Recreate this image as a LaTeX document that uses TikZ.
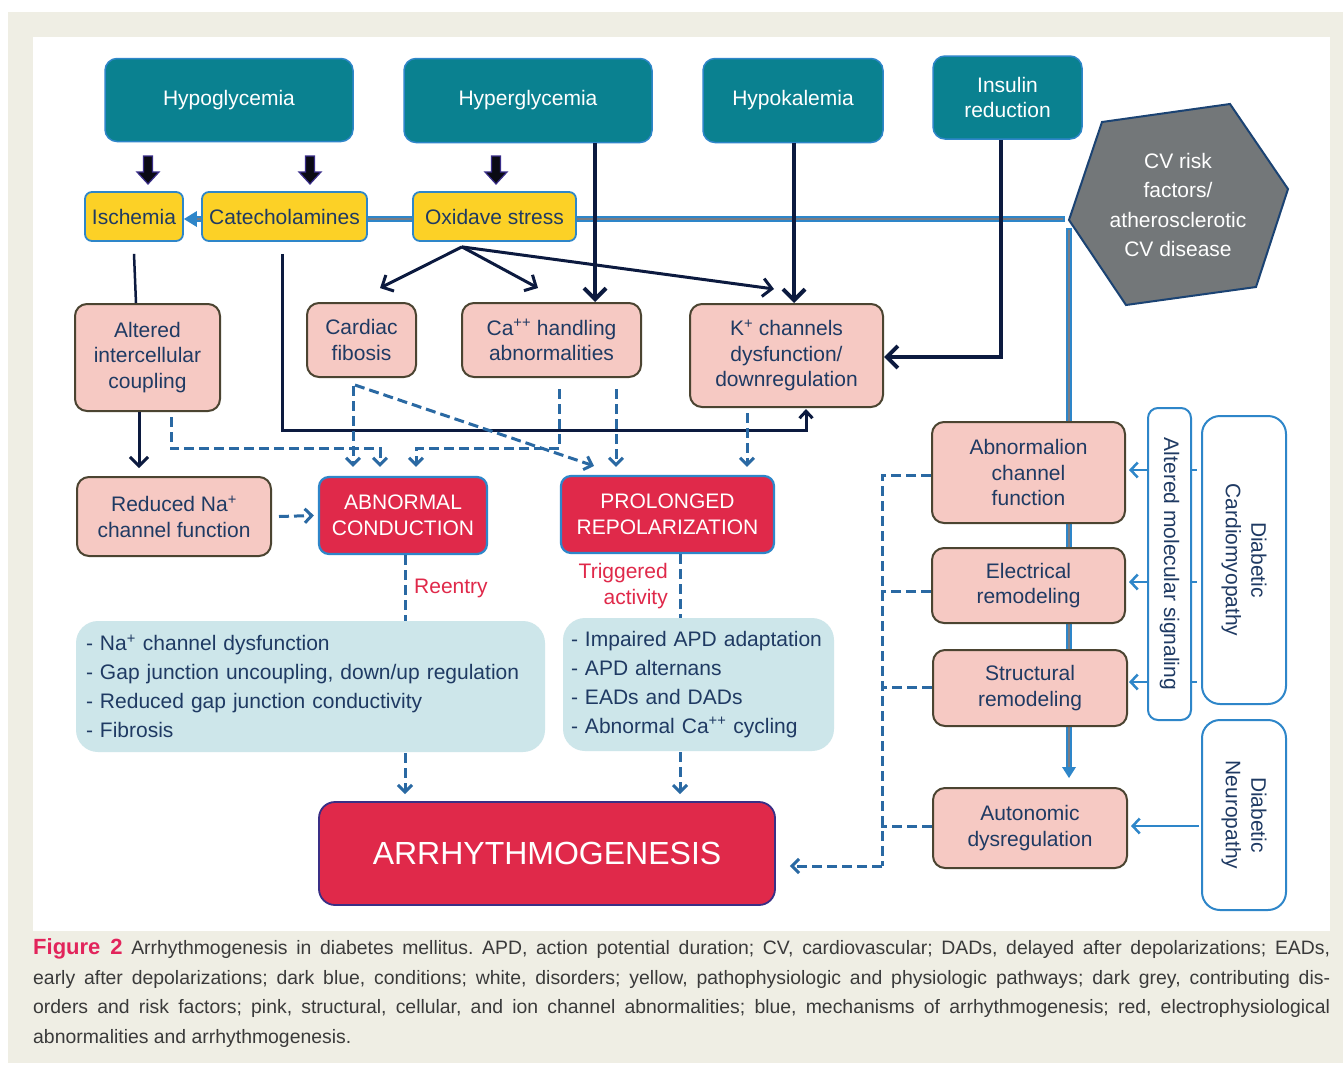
\documentclass[tikz,border=0pt]{standalone}
\usepackage{fontspec}
\setmainfont{Liberation Sans}
\usetikzlibrary{arrows.meta,calc}
\pgfdeclarelayer{bgzero}
\pgfdeclarelayer{bgone}
\pgfsetlayers{bgzero,bgone,main}
\definecolor{cTeal}{HTML}{0A8190}
\definecolor{cBlueB}{HTML}{2E86C9}
\definecolor{cYellow}{HTML}{FCD126}
\definecolor{cPink}{HTML}{F6C9C3}
\definecolor{cBrown}{HTML}{4B4431}
\definecolor{cRed}{HTML}{E0294A}
\definecolor{cArrB}{HTML}{3A2F85}
\definecolor{cLB}{HTML}{CDE6EA}
\definecolor{cTxt}{HTML}{1F3A63}
\definecolor{cDark}{HTML}{0C1A3F}
\definecolor{cDash}{HTML}{2A69A3}
\definecolor{cHex}{HTML}{737779}
\definecolor{cHexB}{HTML}{1B4373}
\definecolor{cBeige}{HTML}{EFEEE4}
\definecolor{cFig}{HTML}{E2245B}
\definecolor{cCap}{HTML}{3A3A3A}
\definecolor{cCore}{HTML}{7A7C82}
\definecolor{cBlk}{HTML}{0A0A14}
\definecolor{cBlkB}{HTML}{3A2E8A}
\frenchspacing
\begin{document}
\begin{tikzpicture}[x=1pt,y=-1pt,
  base/.style={rounded corners=12pt, align=center, inner sep=0pt, font=\fontsize{21}{25.5}\selectfont},
  condbox/.style={base, fill=cTeal, draw=cBlueB, line width=1.5pt, text=white},
  ybox/.style={base, rounded corners=7pt, fill=cYellow, draw=cBlueB, line width=1.8pt, text=cTxt, minimum height=49pt},
  pbox/.style={base, fill=cPink, draw=cBrown, line width=2pt, text=cTxt},
  rbox/.style={base, rounded corners=10pt, fill=cRed, draw=cBlueB, line width=2.2pt, text=white},
  lbbox/.style={base, rounded corners=22pt, fill=cLB, text=cTxt, align=left, font=\fontsize{21}{29}\selectfont},
  wbox/.style={base, rounded corners=10pt, fill=white, draw=cBlueB, line width=2pt, text=cTxt, rotate=-90},
  lbl/.style={inner sep=0pt, text=cRed, font=\fontsize{21}{25.5}\selectfont},
  capline/.style={anchor=base west, inner sep=0pt, text=cCap, font=\fontsize{19.4}{29.5}\selectfont},
  darr/.style={draw=cDark, line width=3pt, -{Straight Barb[length=9pt,width=18pt]}},
  sarr/.style={draw=cDark, line width=3pt, -{Straight Barb[length=7pt,width=13pt]}},
  tarr/.style={draw=cDark, line width=4pt, -{Straight Barb[length=11pt,width=22pt]}},
  sline/.style={draw=cDark, line width=2.5pt},
  dsh/.style={draw=cDash, line width=3pt, dash pattern=on 10pt off 5pt},
  dsharr/.style={dsh, -{Straight Barb[length=7pt,width=14pt]}},
  barr/.style={draw=cBlueB, line width=2.5pt, -{Straight Barb[length=7pt,width=15pt]}},
  blockarr/.pic={\draw[fill=cBlk, draw=cBlkB, line width=1.2pt] (-4.5,0) -- (4.5,0) -- (4.5,16) -- (11,16) -- (0,28) -- (-11,16) -- (-4.5,16) -- cycle;}
]
\useasboundingbox (0,0) rectangle (1343,1066);
\begin{pgfonlayer}{bgzero}
\fill[white] (0,0) rectangle (1343,1066);
\fill[cBeige] (8,12) rectangle (1343,1063);
\fill[white] (33,37) rectangle (1330,931);
\end{pgfonlayer}

% conditions
\node[condbox, minimum width=248pt, minimum height=83pt] (hypo) at (229,100) {Hypoglycemia};
\node[condbox, minimum width=248pt, minimum height=84pt] (hyper) at (528,100.5) {Hyperglycemia};
\node[condbox, minimum width=180pt, minimum height=84pt] (hypok) at (793,100.5) {Hypokalemia};
\node[condbox, minimum width=149pt, minimum height=83pt] (insulin) at (1007.5,97.5) {Insulin\\reduction};

% hexagon
\draw[fill=cHex, draw=cHexB, line width=2pt] (1102,122) -- (1230,104) -- (1288,189) -- (1256,287) -- (1126,305) -- (1069,220) -- cycle;
\node[inner sep=0pt, align=center, text=white, font=\fontsize{21}{29.3}\selectfont] (hex) at (1178,205) {CV risk\\factors/\\atherosclerotic\\CV disease};

% yellow
\node[ybox, minimum width=98pt] (isch) at (134,216.5) {Ischemia};
\node[ybox, minimum width=165pt] (cat) at (284.5,216.5) {Catecholamines};
\node[ybox, minimum width=163pt] (oxi) at (494.5,216.5) {Oxidave stress};

% pink
\node[pbox, minimum width=145pt, minimum height=107pt] (alt) at (147.5,357.5) {Altered\\intercellular\\coupling};
\node[pbox, minimum width=109pt, minimum height=74pt] (fib) at (361.5,340) {Cardiac\\fibosis};
\node[pbox, minimum width=179pt, minimum height=74pt] (ca) at (551.5,340) {Ca\textsuperscript{++} handling\\abnormalities};
\node[pbox, minimum width=193pt, minimum height=103pt] (kch) at (786.5,355.5) {K\textsuperscript{+} channels\\dysfunction/\\downregulation};
\node[pbox, minimum width=194pt, minimum height=79pt] (redna) at (174,516.5) {Reduced Na\textsuperscript{+}\\channel function};
\node[pbox, minimum width=193pt, minimum height=101pt] (acf) at (1028.5,472.5) {Abnormalion\\channel\\function};
\node[pbox, minimum width=193pt, minimum height=75pt] (elr) at (1028.5,585.5) {Electrical\\remodeling};
\node[pbox, minimum width=194pt, minimum height=76pt] (str) at (1030,688) {Structural\\remodeling};
\node[pbox, minimum width=194pt, minimum height=80pt] (aut) at (1030,828) {Autonomic\\dysregulation};

% red
\node[rbox, minimum width=168pt, minimum height=77pt] (abn) at (403,515.5) {ABNORMAL\\CONDUCTION};
\node[rbox, minimum width=213pt, minimum height=77pt] (prol) at (667.5,514.5) {PROLONGED\\REPOLARIZATION};
\node[rbox, draw=cArrB, line width=1.8pt, rounded corners=16pt, minimum width=456pt, minimum height=103pt, font=\fontsize{32}{36}\selectfont] (arr) at (547,853.5) {ARRHYTHMOGENESIS};

% light blue
\node[lbbox, minimum width=469pt, minimum height=131pt, inner xsep=10pt, text width=449pt] (lb1) at (310.5,686.5) {- Na\textsuperscript{+} channel dysfunction\\- Gap junction uncoupling, down/up regulation\\- Reduced gap junction conductivity\\- Fibrosis};
\node[lbbox, minimum width=271pt, minimum height=133pt, inner xsep=8pt, text width=255pt] (lb2) at (698.5,684.5) {- Impaired APD adaptation\\- APD alternans\\- EADs and DADs\\- Abnormal Ca\textsuperscript{++} cycling};

% white rotated
\node[wbox, minimum width=312pt, minimum height=43pt] (ams) at (1169.5,564) {Altered molecular signaling};
\node[wbox, rounded corners=18pt, minimum width=288pt, minimum height=84pt] (dcm) at (1244,560) {Diabetic\\Cardiomyopathy};
\node[wbox, rounded corners=18pt, minimum width=190pt, minimum height=84pt] (dn) at (1244,815) {Diabetic\\Neuropathy};

% labels
\node[lbl, anchor=west] (reen) at (414,588) {Reentry};
\node[lbl, anchor=east, align=right] (trig) at (668,586) {Triggered\\activity};

% double lines (behind boxes)
\begin{pgfonlayer}{bgone}
\coordinate (hL) at (1065,219);
\coordinate (hE) at ($(isch.east |- hL)+(12,0)$);
\draw[cBlueB, line width=6pt] (hL) -- (hE);
\draw[cCore, line width=2.2pt] ($(hL)+(-2,0)$) -- (hE);
\fill[cBlueB] (isch.east |- hL) -- ++(13,-8) -- ++(0,16) -- cycle;
\coordinate (vT) at (1069,228);
\coordinate (vB) at (1069,778);
\draw[cBlueB, line width=6pt] (vT) -- ($(vB)+(0,-9)$);
\draw[cCore, line width=2.2pt] ($(vT)+(0,2)$) -- ($(vB)+(0,-9)$);
\fill[cBlueB] (vB) -- ++(-7,-11) -- ++(14,0) -- cycle;
\end{pgfonlayer}

% block arrows
\pic at (148,156) {blockarr};
\pic at (310,156) {blockarr};
\pic at (496,156) {blockarr};

% solid connectors
\draw[tarr] ([xshift=67pt]hyper.south) -- ([xshift=43.5pt]ca.north);
\draw[tarr] ([xshift=1pt]hypok.south) -- ([xshift=7.5pt]kch.north);
\coordinate (ox) at ($(oxi.south)+(-32.5,5)$);
\draw[darr] (ox) -- ($(fib.north)+(18.5,-14)$);
\draw[darr] (ox) -- ($(ca.north)+(-13.5,-14)$);
\draw[darr] (ox) -- ($(kch.north)+(-12.5,-14)$);
\draw[tarr] ([xshift=-6.5pt]insulin.south) |- ([yshift=-1.5pt]kch.east);
\draw[sarr] ($(cat.south)+(-2.5,12)$) |- ($(kch.south)+(19.5,22)$) -- ($(kch.south)+(19.5,1)$);
\draw[sline] ($(isch.south)+(0,12)$) -- ($(alt.north)+(-11.5,0)$);
\draw[darr] ($(alt.south)+(-8.5,0)$) -- ($(redna.north)+(-35,-8)$);

% dashed connectors
\draw[dsharr] ($(alt.south)+(23.5,5)$) |- ($(abn.north)+(-23,-27)$) -- ($(abn.north)+(-23,-9)$);
\draw[dsharr] ($(fib.south)+(-8.5,8)$) -- ($(abn.north)+(-50,-9)$);
\draw[dsharr] ($(fib.south)+(-6.5,7)$) -- ($(prol.north)+(-73.5,-9)$);
\draw[dsharr] ($(ca.south)+(7.5,11)$) |- ($(abn.north)+(13,-27)$) -- ($(abn.north)+(13,-9)$);
\draw[dsharr] ($(ca.south)+(64.5,11)$) -- ($(prol.north)+(-51.5,-8)$);
\draw[dsharr] ($(kch.south)+(-39.5,5)$) -- ($(prol.north)+(79.5,-8)$);
\draw[dsharr] ($(redna.east)+(7,0)$) -- ($(abn.west)+(-4,0)$);
\draw[dsh] ($(abn.south)+(2,0)$) -- ($(lb1.north)+(94.5,0)$);
\draw[dsh] ($(prol.south)+(12.5,0)$) -- ($(lb2.north)+(-18.5,0)$);
\draw[dsharr] ($(lb1.south)+(94.5,1)$) -- ($(arr.north)+(-142,-7)$);
\draw[dsharr] ($(lb2.south)+(-18.5,1)$) -- ($(arr.north)+(133,-7)$);
\coordinate (dv) at (882,866);
\draw[dsh] ($(acf.west)+(0,2.5)$) -| (dv);
\draw[dsh] ($(elr.west)+(0,5.5)$) -- ++(-50,0);
\draw[dsh] ($(str.west)+(0,-1)$) -- ++(-51,0);
\draw[dsh] ($(aut.west)+(0,-2)$) -- ++(-51,0);
\draw[dsharr] (dv) -- ($(arr.east)+(14,12.5)$);

% blue arrows
\draw[barr] ($(acf.east)+(23,-2.5)$) -- ($(acf.east)+(3,-2.5)$);
\draw[barr] ($(elr.east)+(23,-3.5)$) -- ($(elr.east)+(3,-3.5)$);
\draw[barr] ($(str.east)+(21,-6)$) -- ($(str.east)+(1,-6)$);
\draw[cBlueB, line width=2.5pt] ($(acf.east)+(66,-2.5)$) -- ++(5,0);
\draw[cBlueB, line width=2.5pt] ($(elr.east)+(66,-3.5)$) -- ++(5,0);
\draw[cBlueB, line width=2.5pt] ($(str.east)+(64,-6)$) -- ++(5,0);
\draw[barr] ($(aut.east)+(71,-2)$) -- ($(aut.east)+(3,-2)$);

% caption
\node[capline] (cap1) at (33,954) {\makebox[1297pt][s]{\textcolor{cFig}{\fontsize{22}{29.5}\selectfont\bfseries Figure 2} Arrhythmogenesis in diabetes mellitus. APD, action potential duration; CV, cardiovascular; DADs, delayed after depolarizations; EADs,}};
\node[capline] (cap2) at (33,984) {\makebox[1297pt][s]{early after depolarizations; dark blue, conditions; white, disorders; yellow, pathophysiologic and physiologic pathways; dark grey, contributing dis-}};
\node[capline] (cap3) at (33,1013.5) {\makebox[1297pt][s]{orders and risk factors; pink, structural, cellular, and ion channel abnormalities; blue, mechanisms of arrhythmogenesis; red, electrophysiological}};
\node[capline] (cap4) at (33,1043) {abnormalities and arrhythmogenesis.};
\end{tikzpicture}
\end{document}
